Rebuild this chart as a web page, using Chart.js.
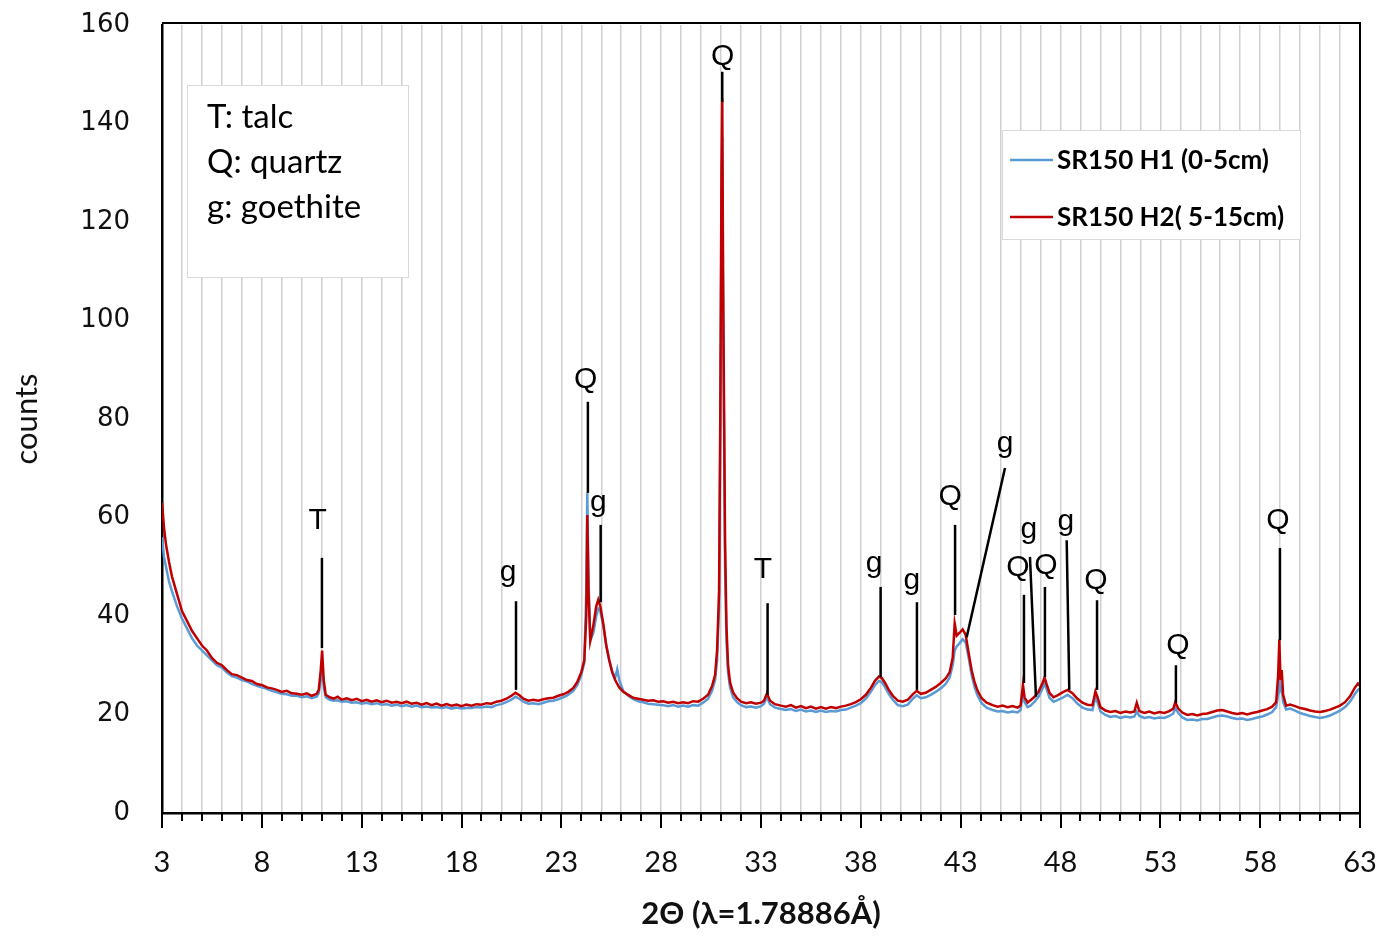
<!DOCTYPE html>
<html>
<head>
<meta charset="utf-8">
<script src="https://cdn.jsdelivr.net/npm/chart.js@4.4.1/dist/chart.umd.min.js"></script>
<style>
  body { margin: 0; background: #fff; }
  canvas { display: block; }
</style>
</head>
<body>
<canvas id="xrd" width="1379" height="937"></canvas>
<script>
// 2-theta positions (degrees)
const thetas = [
  3.0, 3.1, 3.2, 3.35, 3.5, 3.75, 4.0, 4.25, 4.5, 4.75,
  5.0, 5.25, 5.5, 5.75, 6.0, 6.25, 6.5, 6.75, 7.0, 7.25,
  7.5, 7.75, 8.0, 8.25, 8.5, 8.75, 9.0, 9.25, 9.5, 9.75,
  10.0, 10.25, 10.5, 10.75, 10.85, 10.95, 11.02, 11.1, 11.2, 11.4,
  11.6, 11.8, 12.0, 12.25, 12.5, 12.75, 13.0, 13.25, 13.5, 13.75,
  14.0, 14.25, 14.5, 14.75, 15.0, 15.25, 15.5, 15.75, 16.0, 16.25,
  16.5, 16.75, 17.0, 17.25, 17.5, 17.75, 18.0, 18.25, 18.5, 18.75,
  19.0, 19.25, 19.5, 19.75, 20.0, 20.25, 20.5, 20.7, 20.9, 21.1,
  21.35, 21.6, 21.85, 22.1, 22.35, 22.6, 22.85, 23.1, 23.35, 23.6,
  23.8, 24.0, 24.15, 24.25, 24.3, 24.36, 24.45, 24.6, 24.75, 24.85,
  24.95, 25.1, 25.25, 25.4, 25.55, 25.7, 25.8, 25.9, 26.1, 26.35,
  26.6, 26.85, 27.1, 27.35, 27.6, 27.85, 28.1, 28.35, 28.6, 28.85,
  29.1, 29.35, 29.6, 29.85, 30.1, 30.35, 30.55, 30.7, 30.8, 30.9,
  30.96, 31.02, 31.06, 31.1, 31.15, 31.2, 31.27, 31.35, 31.45, 31.6,
  31.8, 32.0, 32.25, 32.5, 32.75, 33.0, 33.15, 33.3, 33.45, 33.7,
  34.0, 34.25, 34.5, 34.75, 35.0, 35.25, 35.5, 35.75, 36.0, 36.25,
  36.5, 36.75, 37.0, 37.25, 37.5, 37.75, 38.0, 38.25, 38.5, 38.7,
  38.9, 39.05, 39.2, 39.4, 39.6, 39.85, 40.1, 40.35, 40.6, 40.8,
  41.0, 41.25, 41.5, 41.75, 42.0, 42.25, 42.45, 42.6, 42.7, 42.8,
  42.95, 43.1, 43.25, 43.4, 43.55, 43.7, 43.85, 44.05, 44.3, 44.6,
  44.85, 45.1, 45.35, 45.6, 45.85, 46.0, 46.12, 46.2, 46.35, 46.5,
  46.7, 46.9, 47.1, 47.2, 47.3, 47.45, 47.65, 47.85, 48.1, 48.35,
  48.6, 48.85, 49.1, 49.35, 49.6, 49.75, 49.85, 50.0, 50.25, 50.5,
  50.75, 51.0, 51.25, 51.5, 51.7, 51.82, 51.95, 52.2, 52.45, 52.7,
  52.95, 53.2, 53.45, 53.65, 53.75, 53.9, 54.1, 54.35, 54.6, 54.85,
  55.1, 55.35, 55.6, 55.85, 56.1, 56.35, 56.6, 56.85, 57.1, 57.35,
  57.6, 57.85, 58.1, 58.35, 58.6, 58.8, 58.9, 58.96, 59.02, 59.08,
  59.15, 59.3, 59.5, 59.75, 60.0, 60.25, 60.5, 60.75, 61.0, 61.25,
  61.5, 61.75, 62.0, 62.25, 62.5, 62.75, 62.9, 63.0
];

// SR150 H1 (0-5cm)
const h1Counts = [
  56, 52, 50, 47, 45, 42, 39.5, 37.5, 35.5, 34,
  33, 32, 31, 30, 29.5, 28.5, 27.8, 27.5, 27, 26.7,
  26.2, 25.8, 25.5, 25.2, 24.8, 24.5, 24.2, 24.1, 23.8, 23.8,
  23.5, 23.7, 23.3, 23.6, 24.3, 27, 29.5, 25.5, 23.5, 23,
  22.8, 22.9, 22.6, 22.7, 22.4, 22.5, 22.2, 22.4, 22.1, 22.3,
  22, 22.1, 21.8, 22, 21.7, 21.9, 21.6, 21.8, 21.5, 21.6,
  21.4, 21.5, 21.3, 21.5, 21.2, 21.4, 21.2, 21.3, 21.3, 21.5,
  21.4, 21.6, 21.5, 21.9, 22.1, 22.5, 23, 23.6, 23.2, 22.6,
  22.2, 22.3, 22.1, 22.4, 22.7, 22.8, 23.1, 23.5, 24, 24.8,
  26, 28, 30.5, 45, 65, 48, 35, 36.5, 40, 41.5,
  41, 38, 34, 31, 28.8, 27.5, 29.2, 27, 24.8, 23.8,
  23.1, 22.7, 22.5, 22.2, 22.1, 22, 21.9, 21.7, 21.9, 21.6,
  21.8, 21.6, 21.9, 21.8, 22.4, 23.2, 24.8, 27, 31, 42,
  75, 120, 137, 105, 78, 50, 35, 28.5, 25.5, 23.5,
  22.5, 21.9, 21.5, 21.6, 21.4, 21.7, 22.2, 23.6, 22.1, 21.4,
  21.1, 20.9, 21.1, 20.7, 21, 20.6, 20.8, 20.5, 20.8, 20.5,
  20.7, 20.6, 20.9, 21, 21.4, 21.8, 22.3, 23.2, 24.6, 25.9,
  26.8, 26.6, 25.6, 24.2, 23, 21.9, 21.7, 22, 23.2, 23.9,
  23.3, 23.5, 24, 24.6, 25.3, 26.2, 27.5, 30, 33, 33.8,
  34.5, 35.3, 34.6, 31.5, 28, 25.5, 23.8, 22.3, 21.4, 20.9,
  20.6, 20.7, 20.4, 20.6, 20.4, 20.9, 24.5, 22.5, 21.5, 21.8,
  22.6, 23.6, 25.3, 26.4, 25.2, 23.4, 22.6, 22.9, 23.4, 24,
  23.3, 22.2, 21.4, 21, 20.9, 23.5, 22.5, 20.6, 19.9, 19.5,
  19.7, 19.3, 19.6, 19.4, 19.6, 20.6, 19.7, 19.3, 19.5, 19.2,
  19.4, 19.3, 19.7, 20.2, 21.3, 20.3, 19.4, 18.9, 19, 18.8,
  19.1, 19.1, 19.4, 19.7, 19.8, 19.6, 19.3, 19.1, 19.2, 18.9,
  19.1, 19.4, 19.6, 20, 20.5, 21.5, 24, 27.2, 25, 25.5,
  22.5, 21, 21.2, 20.8, 20.3, 20, 19.7, 19.5, 19.3, 19.5,
  19.8, 20.3, 20.8, 21.5, 22.6, 24.2, 25, 25.3
];

// SR150 H2( 5-15cm)
const h2Counts = [
  63, 58, 54.5, 51, 48, 44.5, 41, 39, 37, 35.5,
  34, 33, 31.5, 30.5, 30, 29, 28.2, 28, 27.5, 27,
  26.8, 26.2, 26, 25.5, 25.3, 25, 24.6, 24.8, 24.3, 24.2,
  24, 24.3, 23.8, 24.2, 25, 29, 33, 27, 24, 23.5,
  23.2, 23.6, 23, 23.3, 22.9, 23.2, 22.7, 23, 22.6, 22.9,
  22.5, 22.8, 22.4, 22.6, 22.3, 22.6, 22.2, 22.4, 22, 22.3,
  21.9, 22.2, 21.8, 22.1, 21.8, 22, 21.7, 22, 21.8, 22.1,
  22, 22.3, 22.2, 22.6, 22.8, 23.2, 23.8, 24.4, 23.9, 23.2,
  22.8, 23, 22.8, 23.1, 23.3, 23.4, 23.8, 24.1, 24.6, 25.4,
  26.6, 28.6, 31, 40, 60.5, 45, 35, 38, 42, 43.3,
  42, 38.5, 34, 31, 28.5, 27, 26.2, 25.5, 24.6, 24,
  23.4, 23.2, 23, 22.8, 22.9, 22.6, 22.7, 22.4, 22.6, 22.3,
  22.5, 22.3, 22.7, 22.6, 23.2, 24, 25.8, 28, 33, 45,
  80, 130, 145, 110, 82, 55, 38, 30, 26.5, 24.5,
  23.3, 22.6, 22.3, 22.5, 22.2, 22.4, 22.8, 24.3, 22.8, 22.1,
  21.8, 21.6, 21.9, 21.4, 21.7, 21.3, 21.6, 21.2, 21.5, 21.2,
  21.5, 21.3, 21.6, 21.8, 22.1, 22.5, 23.1, 24, 25.4, 26.8,
  27.7, 27.4, 26.5, 25, 23.8, 22.8, 22.6, 23, 24.1, 24.8,
  24.2, 24.4, 25, 25.6, 26.4, 27.3, 28.6, 31.5, 38.5, 36,
  36.6, 37.3, 36.2, 32.5, 29, 26.5, 24.8, 23.3, 22.4, 21.9,
  21.6, 21.8, 21.5, 21.7, 21.4, 21.8, 26, 23.5, 22.4, 22.9,
  23.6, 24.6, 26.4, 27.5, 26.2, 24.4, 23.5, 23.9, 24.5, 25,
  24.3, 23.2, 22.4, 22, 21.9, 24.7, 23.6, 21.5, 20.8, 20.5,
  20.7, 20.3, 20.6, 20.4, 20.6, 22.4, 20.7, 20.3, 20.6, 20.2,
  20.5, 20.3, 20.7, 21.2, 22.5, 21.2, 20.4, 19.9, 20.1, 19.8,
  20.1, 20.2, 20.5, 20.8, 20.9, 20.6, 20.3, 20.1, 20.3, 20,
  20.3, 20.5, 20.8, 21.1, 21.6, 22.5, 28, 35.2, 27, 29,
  24, 21.8, 22, 21.7, 21.3, 21.1, 20.8, 20.6, 20.5, 20.7,
  21, 21.4, 21.8, 22.5, 23.7, 25.5, 26.3, 25.8
];

// peak markers: letter, line foot (theta, count), line head (theta, count), letter centre (theta, count)
const markLetters = ['T', 'g', 'Q', 'g', 'Q', 'T', 'g', 'g', 'Q', 'g', 'Q', 'g', 'Q', 'g', 'Q', 'Q', 'Q'];
const markFootTheta = [11.01, 20.73, 24.33, 24.97, 31.06, 33.33, 38.99, 40.81, 42.72, 43.3, 46.17, 46.77, 47.22, 48.44, 49.83, 53.78, 58.99];
const markFootCount = [33.5, 25.0, 65, 42.8, 144.4, 24, 27.6, 25, 40.2, 35.7, 26.4, 23.6, 27.6, 25, 25, 22.3, 35.1];
const markHeadTheta = [11.01, 20.73, 24.33, 24.97, 31.06, 33.33, 38.99, 40.81, 42.72, 45.22, 46.17, 46.47, 47.22, 48.31, 49.83, 53.78, 58.99];
const markHeadCount = [51.8, 43.0, 83.5, 58.5, 150.5, 42.6, 45.9, 42.8, 58.5, 70.05, 44.3, 52, 45.9, 55.4, 43.2, 30, 53.8];
const markTextTheta = [10.8, 20.33, 24.22, 24.85, 31.08, 33.1, 38.66, 40.56, 42.47, 45.22, 45.87, 46.42, 47.27, 48.27, 49.78, 53.88, 58.89];
const markTextCount = [59.3, 48.7, 87.9, 62.9, 153.6, 49.3, 50.6, 47.1, 64.2, 74.9, 49.7, 57.5, 50.2, 59.1, 47.1, 33.9, 59.3];

const phaseKey = ['T: talc', 'Q: quartz', 'g: goethite'];
const seriesNames = ['SR150 H1 (0-5cm)', 'SR150 H2( 5-15cm)'];
const seriesColors = ['#5b9bd5', '#c00000'];

function toPoints(ys) {
    return thetas.map((t, i) => ({ x: t, y: ys[i] }));
}

function whiteBox(ctx, x0, y0, x1, y1) {
    ctx.save();
    ctx.fillStyle = '#ffffff';
    ctx.fillRect(x0, y0, x1 - x0, y1 - y0);
    ctx.strokeStyle = '#d9d9d9';
    ctx.lineWidth = 1;
    ctx.strokeRect(x0 + 0.5, y0 + 0.5, x1 - x0, y1 - y0);
    ctx.restore();
}

const decorations = {
    id: 'decorations',
    beforeDatasetsDraw(chart) {
        const ctx = chart.ctx;
        const area = chart.chartArea;

        // phase key box, top left
        whiteBox(ctx, area.left + 25, area.top + 60, area.left + 246, area.top + 252);
        ctx.save();
        ctx.fillStyle = '#000';
        ctx.font = '33px Lato';
        ctx.textBaseline = 'alphabetic';
        phaseKey.forEach((txt, i) => {
            ctx.fillText(txt, area.left + 45, area.top + 103 + i * 45);
        });
        ctx.restore();

        // series legend box, top right
        whiteBox(ctx, area.left + 840, area.top + 105, area.left + 1138, area.top + 214);
        ctx.save();
        ctx.font = 'bold 26px Lato';
        ctx.textBaseline = 'middle';
        seriesNames.forEach((name, i) => {
            const yy = area.top + 135 + i * 57;
            ctx.strokeStyle = seriesColors[i];
            ctx.lineWidth = 2.5;
            ctx.beginPath();
            ctx.moveTo(area.left + 848, yy);
            ctx.lineTo(area.left + 891, yy);
            ctx.stroke();
            ctx.fillStyle = '#000';
            ctx.fillText(name, area.left + 895, yy + 1);
        });
        ctx.restore();
    },
    afterDatasetsDraw(chart) {
        const { ctx, scales: { x, y } } = chart;
        ctx.save();
        ctx.strokeStyle = '#000';
        ctx.lineWidth = 2.5;
        ctx.fillStyle = '#000';
        ctx.font = '30px "Liberation Sans"';
        ctx.textAlign = 'center';
        ctx.textBaseline = 'middle';
        markLetters.forEach((letter, i) => {
            ctx.beginPath();
            ctx.moveTo(x.getPixelForValue(markFootTheta[i]), y.getPixelForValue(markFootCount[i]));
            ctx.lineTo(x.getPixelForValue(markHeadTheta[i]), y.getPixelForValue(markHeadCount[i]));
            ctx.stroke();
            ctx.fillText(letter, x.getPixelForValue(markTextTheta[i]), y.getPixelForValue(markTextCount[i]));
        });
        ctx.restore();
    },
    afterDraw(chart) {
        const { ctx, chartArea: area, scales: { x } } = chart;
        ctx.save();
        // outer frame on top and right
        ctx.strokeStyle = '#000';
        ctx.lineWidth = 2;
        ctx.beginPath();
        ctx.moveTo(area.left, area.top - 2);
        ctx.lineTo(area.right, area.top - 2);
        ctx.lineTo(area.right, area.bottom);
        ctx.stroke();
        // tick marks below the x axis, long every 5 degrees
        ctx.lineWidth = 2;
        for (let v = 3; v <= 63; v++) {
            const px = Math.round(x.getPixelForValue(v));
            const len = (v - 3) % 5 === 0 ? 15 : 8;
            ctx.beginPath();
            ctx.moveTo(px, area.bottom);
            ctx.lineTo(px, area.bottom + len);
            ctx.stroke();
        }
        ctx.restore();
    }
};

const ctx = document.getElementById('xrd').getContext('2d');

new Chart(ctx, {
    type: 'line',
    data: {
        datasets: [
            {
                label: seriesNames[1],
                data: toPoints(h2Counts),
                borderColor: seriesColors[1],
                borderWidth: 2.5,
                pointRadius: 0,
                tension: 0
            },
            {
                label: seriesNames[0],
                data: toPoints(h1Counts),
                borderColor: seriesColors[0],
                borderWidth: 2.5,
                pointRadius: 0,
                tension: 0
            }
        ]
    },
    options: {
        responsive: false,
        animation: false,
        parsing: false,
        layout: { padding: { top: 25, right: 19, left: 0, bottom: 0 } },
        plugins: {
            legend: { display: false },
            tooltip: { enabled: false }
        },
        scales: {
            x: {
                type: 'linear',
                min: 3,
                max: 63,
                afterFit: (scale) => {
                    scale.height = 124;
                    scale.paddingLeft = 0;
                    scale.paddingRight = 0;
                },
                grid: { color: '#d0d0d0', lineWidth: 1.5, drawTicks: false },
                border: { color: '#000', width: 2.5 },
                ticks: {
                    stepSize: 1,
                    autoSkip: false,
                    maxRotation: 0,
                    maxTicksLimit: 100,
                    padding: 32,
                    color: '#111',
                    font: { family: 'Lato', size: 29 },
                    callback: (v) => ((v - 3) % 5 === 0 ? String(v) : '')
                },
                title: {
                    display: true,
                    text: '2Θ (λ=1.78886Å)',
                    color: '#111',
                    font: { family: 'Lato', size: 31, weight: 'bold' },
                    padding: { top: 0, bottom: 4 }
                }
            },
            y: {
                min: 0,
                max: 160,
                afterFit: (scale) => {
                    scale.width = 162;
                    scale.paddingTop = 0;
                    scale.paddingBottom = 0;
                },
                grid: { display: false, drawTicks: false },
                border: { color: '#000', width: 2.5 },
                ticks: {
                    stepSize: 20,
                    padding: 32,
                    color: '#111',
                    font: { family: 'DejaVu Sans', size: 26 }
                },
                title: {
                    display: true,
                    text: 'counts',
                    color: '#111',
                    font: { family: 'Lato', size: 31 },
                    padding: { top: 8, bottom: 0 }
                }
            }
        }
    },
    plugins: [decorations]
});
</script>
</body>
</html>
